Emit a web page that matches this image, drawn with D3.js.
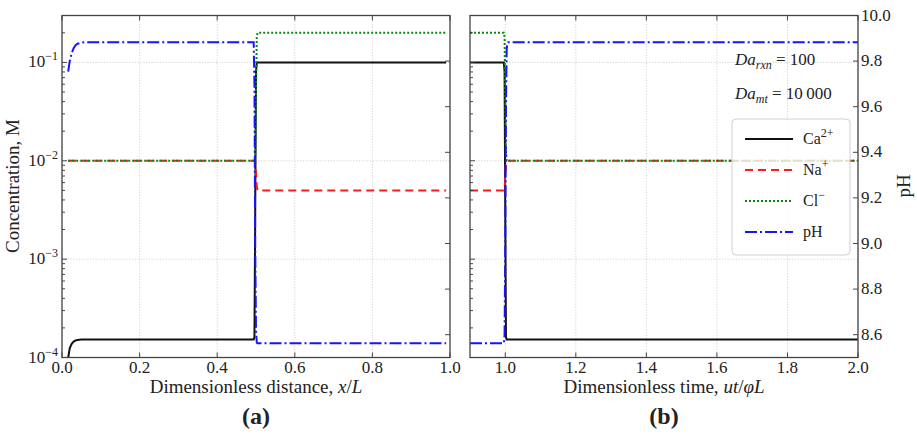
<!DOCTYPE html>
<html>
<head>
<meta charset="utf-8">
<script src="https://cdn.jsdelivr.net/npm/d3@7"></script>
<style>
  body { margin: 0; background: #fff; }
  text { font-family: "Liberation Serif", "DejaVu Serif", serif; fill: #222; }
</style>
</head>
<body>
<svg id="chart" width="917" height="434"></svg>
<script>
// ---- data ----
// panel (a): profiles vs dimensionless distance
var distX = [0.016, 0.02, 0.025, 0.03, 0.035, 0.04, 0.05, 0.06, 0.08, 0.494, 0.496, 0.498, 0.5, 0.502, 0.504, 0.506, 0.99];
var distCa = [1.0e-4, 1.25e-4, 1.38e-4, 1.45e-4, 1.49e-4, 1.51e-4, 1.52e-4, 1.52e-4, 1.52e-4, 1.52e-4, 1.6e-4, 3e-3, 0.08, 0.1, 0.1, 0.1, 0.1];
var distNa = [0.01, 0.01, 0.01, 0.01, 0.01, 0.01, 0.01, 0.01, 0.01, 0.01, 0.01, 0.0098, 0.0075, 0.0055, 0.005, 0.005, 0.005];
var distCl = [0.01, 0.01, 0.01, 0.01, 0.01, 0.01, 0.01, 0.01, 0.01, 0.01, 0.01, 0.011, 0.05, 0.18, 0.2, 0.2, 0.2];
var distPH = [9.754, 9.80, 9.835, 9.857, 9.87, 9.876, 9.881, 9.883, 9.883, 9.883, 9.7, 9.0, 8.62, 8.565, 8.562, 8.562, 8.562];

// panel (b): outlet history vs dimensionless time
var timeX = [0.9, 0.996, 0.998, 1.0, 1.002, 1.004, 1.006, 1.008, 2.0];
var timeCa = [0.1, 0.1, 0.08, 0.003, 1.6e-4, 1.52e-4, 1.52e-4, 1.52e-4, 1.52e-4];
var timeNa = [0.005, 0.005, 0.0052, 0.007, 0.0095, 0.01, 0.01, 0.01, 0.01];
var timeCl = [0.2, 0.2, 0.18, 0.05, 0.012, 0.01, 0.01, 0.01, 0.01];
var timePH = [8.562, 8.562, 8.6, 9.0, 9.6, 9.85, 9.88, 9.883, 9.883];

var distTicks = [0, 0.2, 0.4, 0.6, 0.8, 1.0];
var timeTicks = [1.0, 1.2, 1.4, 1.6, 1.8, 2.0];
var concTicks = [1e-4, 1e-3, 1e-2, 1e-1];
var concExp = ["\u22124", "\u22123", "\u22122", "\u22121"];
var phTicks = [8.6, 8.8, 9.0, 9.2, 9.4, 9.6, 9.8, 10.0];

var seriesNames = ["Ca", "Na", "Cl", "pH"];
var seriesSup = ["2+", "+", "\u2212", ""];
var seriesColor = ["#111", "#ff1a1a", "#0a8a0a", "#1414ff"];
var seriesDash = ["none", "8,5", "2,2", "12,3,2,3"];

var svg = d3.select('#chart');
var plotTop = 15.5, plotBottom = 357.5;

var yConc = d3.scaleLog().domain([1e-4, 0.3]).range([plotBottom, plotTop]);
var yPH = d3.scaleLinear().domain([8.5, 10.0]).range([plotBottom, plotTop]);

var minor = [];
[-4, -3, -2, -1].forEach(function(e) {
  for (var k = 2; k <= 9; k++) {
    var v = k * Math.pow(10, e);
    if (v <= 0.3) minor.push(v);
  }
});

function drawPanel(id, left, right, xDomain, xTicks, xs, cols, showConcLabels, showPHLabels) {
  var x = d3.scaleLinear().domain(xDomain).range([left, right]);
  var g = svg.append('g').attr('id', 'panel_' + id);

  g.append('clipPath').attr('id', 'clip_' + id)
    .append('rect').attr('x', left).attr('y', plotTop).attr('width', right - left).attr('height', plotBottom - plotTop);

  // grid
  var grid = g.append('g').attr('stroke', '#c8c8c8').attr('stroke-width', 0.8).attr('stroke-dasharray', '1.2,1.6');
  xTicks.forEach(function(t) {
    grid.append('line').attr('x1', x(t)).attr('x2', x(t)).attr('y1', plotTop).attr('y2', plotBottom);
  });
  concTicks.forEach(function(t) {
    grid.append('line').attr('x1', left).attr('x2', right).attr('y1', yConc(t)).attr('y2', yConc(t));
  });

  // curves
  var lines = g.append('g').attr('clip-path', 'url(#clip_' + id + ')');
  cols.forEach(function(vals, i) {
    var yS = i == 3 ? yPH : yConc;
    var line = d3.line()
      .x(function(d, j) { return x(xs[j]); })
      .y(function(d) { return yS(d); });
    lines.append('path')
      .datum(vals)
      .attr('d', line)
      .attr('fill', 'none')
      .attr('stroke', seriesColor[i])
      .attr('stroke-width', 2)
      .attr('stroke-dasharray', seriesDash[i]);
  });

  // ticks (inward)
  var tk = g.append('g').attr('stroke', '#333').attr('stroke-width', 0.9);
  xTicks.forEach(function(t) {
    tk.append('line').attr('x1', x(t)).attr('x2', x(t)).attr('y1', plotBottom).attr('y2', plotBottom - 5);
    tk.append('line').attr('x1', x(t)).attr('x2', x(t)).attr('y1', plotTop).attr('y2', plotTop + 5);
  });
  concTicks.forEach(function(t) {
    tk.append('line').attr('x1', left).attr('x2', left + 5).attr('y1', yConc(t)).attr('y2', yConc(t));
  });
  minor.forEach(function(t) {
    tk.append('line').attr('x1', left).attr('x2', left + 3).attr('y1', yConc(t)).attr('y2', yConc(t));
  });
  phTicks.forEach(function(t) {
    tk.append('line').attr('x1', right).attr('x2', right - 5).attr('y1', yPH(t)).attr('y2', yPH(t));
  });

  // frame
  g.append('rect').attr('x', left).attr('y', plotTop).attr('width', right - left).attr('height', plotBottom - plotTop)
    .attr('fill', 'none').attr('stroke', '#444').attr('stroke-width', 1.3);

  // labels
  xTicks.forEach(function(t) {
    g.append('text').attr('x', x(t)).attr('y', 373).attr('text-anchor', 'middle')
      .attr('font-size', 17).text(t.toFixed(1));
  });
  if (showConcLabels) {
    concTicks.forEach(function(t, i) {
      var tx = g.append('text').attr('x', left - 4).attr('y', yConc(t) + 5).attr('text-anchor', 'end').attr('font-size', 17);
      tx.append('tspan').text('10');
      tx.append('tspan').attr('dy', -7).attr('font-size', 12).text(concExp[i]);
    });
  }
  if (showPHLabels) {
    phTicks.forEach(function(t) {
      g.append('text').attr('x', right + 3).attr('y', yPH(t) + 5).attr('font-size', 17).text(t.toFixed(1));
    });
  }
  return x;
}

drawPanel('a', 62, 450, [0, 1], distTicks, distX, [distCa, distNa, distCl, distPH], true, false);
drawPanel('b', 470, 858, [0.9, 2.0], timeTicks, timeX, [timeCa, timeNa, timeCl, timePH], false, true);

// axis titles
var xl = svg.append('text').attr('x', 256).attr('y', 393).attr('text-anchor', 'middle').attr('font-size', 19);
xl.append('tspan').text('Dimensionless distance, ');
xl.append('tspan').attr('font-style', 'italic').text('x');
xl.append('tspan').text('/');
xl.append('tspan').attr('font-style', 'italic').text('L');

var xr = svg.append('text').attr('x', 664).attr('y', 393).attr('text-anchor', 'middle').attr('font-size', 19);
xr.append('tspan').text('Dimensionless time, ');
xr.append('tspan').attr('font-style', 'italic').text('ut');
xr.append('tspan').text('/');
xr.append('tspan').attr('font-style', 'italic').text('\u03c6L');

svg.append('text').attr('transform', 'translate(19,186) rotate(-90)').attr('text-anchor', 'middle')
  .attr('font-size', 19).text('Concentration, M');
svg.append('text').attr('transform', 'translate(910,186) rotate(-90)').attr('text-anchor', 'middle')
  .attr('font-size', 19).text('pH');

svg.append('text').attr('x', 256).attr('y', 424).attr('text-anchor', 'middle')
  .attr('font-size', 24).attr('font-weight', 'bold').text('(a)');
svg.append('text').attr('x', 664).attr('y', 424).attr('text-anchor', 'middle')
  .attr('font-size', 24).attr('font-weight', 'bold').text('(b)');

// Damkohler annotations
function damk(y, sub, val) {
  var t = svg.append('text').attr('x', 735).attr('y', y).attr('font-size', 17);
  t.append('tspan').attr('font-style', 'italic').text('Da');
  t.append('tspan').attr('font-style', 'italic').attr('font-size', 12).attr('dy', 4).text(sub);
  t.append('tspan').attr('dy', -4).text(' = ' + val);
}
damk(65, 'rxn', '100');
damk(99, 'mt', '10\u2009000');

// legend
var lg = svg.append('g');
lg.append('rect').attr('x', 732).attr('y', 119).attr('width', 118).attr('height', 136).attr('rx', 4)
  .attr('fill', 'white').attr('fill-opacity', 0.8).attr('stroke', '#d0d0d0').attr('stroke-width', 1);
seriesNames.forEach(function(n, i) {
  var yy = 139 + i * 31;
  lg.append('line').attr('x1', 745).attr('x2', 793).attr('y1', yy).attr('y2', yy)
    .attr('stroke', seriesColor[i]).attr('stroke-width', 2).attr('stroke-dasharray', seriesDash[i]);
  var t = lg.append('text').attr('x', 803).attr('y', yy + 5).attr('font-size', 16);
  t.append('tspan').text(n);
  if (seriesSup[i]) t.append('tspan').attr('dy', -7).attr('font-size', 12).text(seriesSup[i]);
});
</script>
</body>
</html>
